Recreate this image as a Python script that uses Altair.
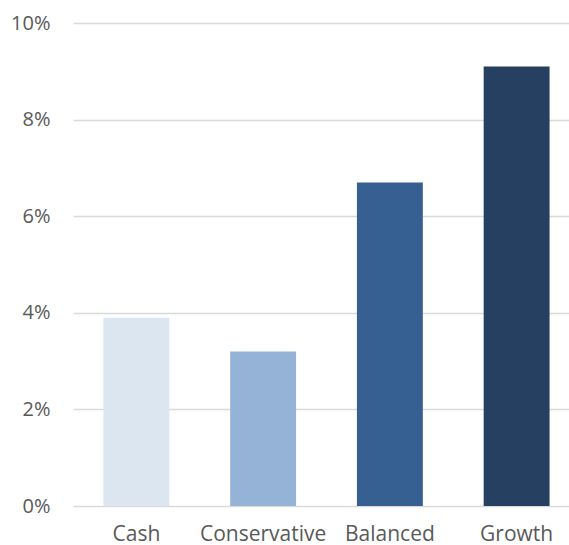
import altair as alt
import pandas as pd

categories = ["Cash", "Conservative", "Balanced", "Growth"]
values = [0.039, 0.032, 0.067, 0.091]
colors = ["#DCE6F1", "#95B3D7", "#366092", "#254061"]

df = pd.DataFrame({"category": categories, "value": values})

chart = alt.Chart(df).mark_bar().encode(
    x=alt.X("category:N", sort=categories,
            scale=alt.Scale(range=[0, 507], paddingInner=0.48, paddingOuter=0.24),
            axis=alt.Axis(title=None, labelAngle=0, domain=False, ticks=False,
                          labelPadding=17, labelFontSize=21, labelColor="#595959",
                          labelFont="Open Sans")),
    y=alt.Y("value:Q", scale=alt.Scale(domain=[0, 0.10], nice=False),
            axis=alt.Axis(title=None, format=".0%", values=[0, 0.02, 0.04, 0.06, 0.08, 0.10],
                          domain=False, ticks=False, labelPadding=23, labelFontSize=20,
                          labelColor="#595959", labelFont="Open Sans",
                          gridColor="#D9D9D9", gridWidth=1.5)),
    color=alt.Color("category:N", sort=categories,
                    scale=alt.Scale(domain=categories, range=colors), legend=None),
).properties(
    width=496, height=483,
    autosize=alt.AutoSizeParams(type="none"),
    padding={"left": 73, "top": 23, "right": 0, "bottom": 39},
).configure_view(stroke=None)

chart.save("out.html", embed_options={"renderer": "svg", "actions": False})
